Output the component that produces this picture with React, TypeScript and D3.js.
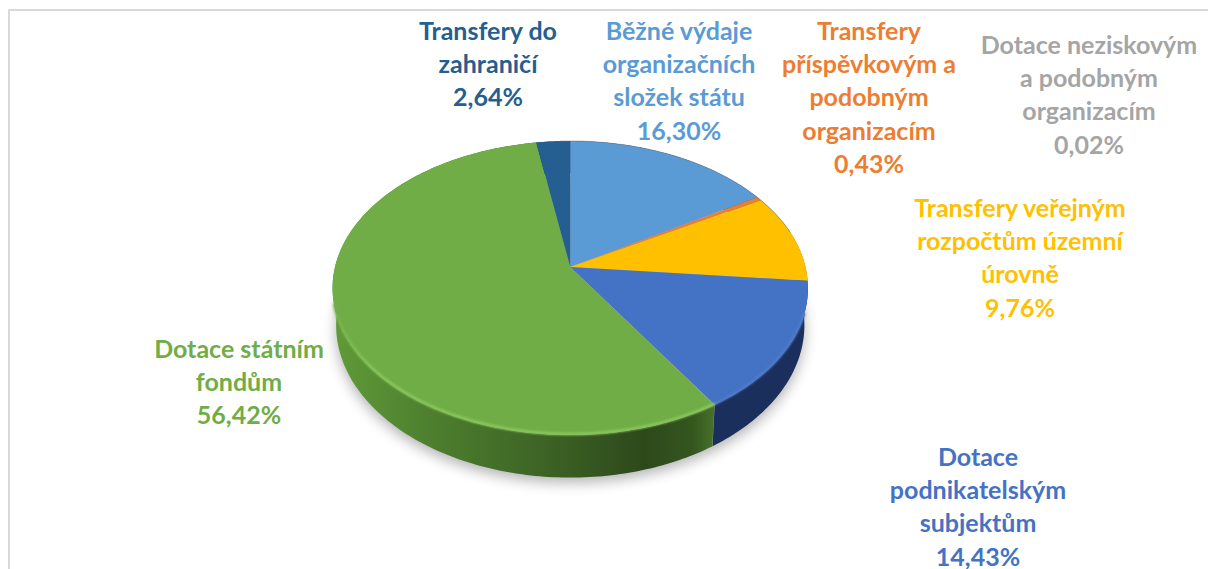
import React from "react";
import * as d3 from "d3";

const WIDTH = 1208, HEIGHT = 569;

// slices clockwise from 12 o'clock
const categories = [
  "Běžné výdaje organizačních složek státu",
  "Transfery příspěvkovým a podobným organizacím",
  "Transfery veřejným rozpočtům územní úrovně",
  "Dotace podnikatelským subjektům",
  "Dotace neziskovým a podobným organizacím",
  "Dotace státním fondům",
  "Transfery do zahraničí",
];
const shares = [16.3, 0.43, 9.76, 14.43, 0.02, 56.42, 2.64];
const shareLabels = ["16,30%", "0,43%", "9,76%", "14,43%", "0,02%", "56,42%", "2,64%"];
const labelLines = [
  ["Běžné výdaje", "organizačních", "složek státu"],
  ["Transfery", "příspěvkovým a", "podobným", "organizacím"],
  ["Transfery veřejným", "rozpočtům územní", "úrovně"],
  ["Dotace", "podnikatelským", "subjektům"],
  ["Dotace neziskovým", "a podobným", "organizacím"],
  ["Dotace státním", "fondům"],
  ["Transfery do", "zahraničí"],
];
const sliceColors = ["#5b9bd5", "#ed7d31", "#ffc000", "#4472c4", "#a5a5a5", "#70ad47", "#255e91"];
const sideColors = ["#2e5d85", "#8a4a1d", "#94700a", "#1b2f5c", "#666666", "url(#greenSide)", "#16395a"];
const rimColors = ["#5b9bd5", "#ed7d31", "#ffc000", "#4f7ccc", "#a5a5a5", "url(#greenRim)", "#255e91"];
const labelX = [679, 869, 1020, 978, 1089, 239, 488];
const labelY = [32, 32, 209, 458, 46, 350, 32];

// tilted disc: perspective projection of the unit circle
const perspective = 1 / 7;
const xScale = d3.scaleLinear().domain([-1, 1]).range([335, 805.5]);
const yScale = d3.scaleLinear().domain([-1, 1]).range([123, 411]);
const depth = 36.5;
const bottomShrink = 0.985;
const cx = xScale(0);

const top = (a: number): [number, number] => {
  const u = Math.sin(a), v = -Math.cos(a), w = 1 - perspective * v;
  return [xScale(u / w), yScale(v / w)];
};
const bottom = (a: number): [number, number] => {
  const u = Math.sin(a), v = -Math.cos(a), w = 1 - perspective * v;
  return [xScale((u / w) * bottomShrink), yScale(v / w) + depth / w];
};

const line = d3.line();
const sample = (a0: number, a1: number) => {
  const n = Math.max(2, Math.ceil(Math.abs(a1 - a0) * 60));
  return d3.range(n + 1).map((i) => a0 + ((a1 - a0) * i) / n);
};

const slices = d3.pie<number>().sort(null).value((d) => d)(shares);
const fullCircle = sample(0, Math.PI * 2);

export default function App() {
  const apex: [number, number] = [cx, yScale(0)];
  return (
    <svg width={WIDTH} height={HEIGHT} style={{ position: "fixed", left: 0, top: 0, background: "#fff" }}>
      <defs>
        <filter id="soft" x="-20%" y="-20%" width="140%" height="140%">
          <feGaussianBlur stdDeviation="7" />
        </filter>
        <filter id="rimBlur" x="-10%" y="-10%" width="120%" height="120%">
          <feGaussianBlur stdDeviation="1.2" />
        </filter>
        <linearGradient id="greenSide" gradientUnits="userSpaceOnUse" x1="337" x2="712" y1="0" y2="0">
          <stop offset="0" stopColor="#5f9a39" />
          <stop offset="0.25" stopColor="#4d7f2e" />
          <stop offset="0.55" stopColor="#3d6325" />
          <stop offset="0.82" stopColor="#2d491b" />
          <stop offset="0.95" stopColor="#35561f" />
          <stop offset="1" stopColor="#466f2a" />
        </linearGradient>
        <linearGradient id="greenRim" gradientUnits="userSpaceOnUse" x1="0" x2="0" y1="305" y2="375">
          <stop offset="0" stopColor="#70ad47" />
          <stop offset="1" stopColor="#8ccb5f" />
        </linearGradient>
      </defs>

      {/* frame */}
      <path d={`M9,${HEIGHT}V10H${WIDTH}`} fill="none" stroke="#d9d9d9" strokeWidth={2} />

      {/* shadow */}
      <path d={line(fullCircle.map(bottom)) + "Z"} fill="#000" opacity={0.3} filter="url(#soft)" transform="translate(0,5)" />

      {/* outer wall */}
      {slices.map((s, i) => (
        <path
          key={"side" + i}
          d={line([...sample(s.startAngle, s.endAngle).map(top), ...sample(s.endAngle, s.startAngle).map(bottom)]) + "Z"}
          fill={sideColors[i]}
        />
      ))}

      {/* top face */}
      {slices.map((s, i) => (
        <path
          key={"face" + i}
          d={line([apex, ...sample(s.startAngle, s.endAngle).map(top)]) + "Z"}
          fill={sliceColors[i]}
        />
      ))}

      {/* bevelled rim, front half only */}
      <g filter="url(#rimBlur)">
        {slices.map((s, i) => {
          const a0 = Math.max(s.startAngle, Math.PI * 0.6);
          const a1 = Math.min(s.endAngle, Math.PI * 1.42);
          if (a1 <= a0) return null;
          return (
            <path
              key={"rim" + i}
              d={line(sample(a0, a1).map(top)) ?? ""}
              fill="none"
              stroke={rimColors[i]}
              strokeWidth={2.6}
              transform="translate(0,-1)"
            />
          );
        })}
      </g>
      <path d={line(sample(-0.05, Math.PI * 0.42).map(top)) ?? ""} fill="none" stroke="#5f6f7d" strokeWidth={0.8} opacity={0.6} />

      {/* labels */}
      {categories.map((c, i) => (
        <text
          key={c}
          textAnchor="middle"
          fontFamily="Lato, 'Open Sans', sans-serif"
          fontWeight={700}
          fontSize={25}
          fill={sliceColors[i]}
        >
          {[...labelLines[i], shareLabels[i]].map((t, j) => (
            <tspan key={j} x={labelX[i]} y={labelY[i] + 8 + j * 33.2}>
              {t}
            </tspan>
          ))}
        </text>
      ))}
    </svg>
  );
}
